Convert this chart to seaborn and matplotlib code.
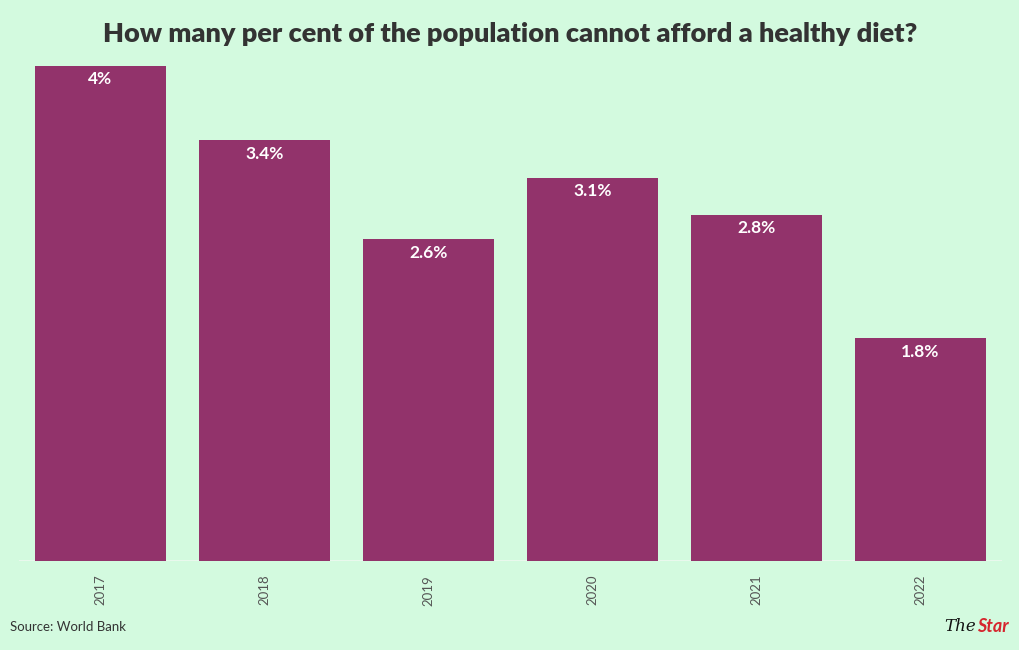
import matplotlib
matplotlib.use("Agg")
import matplotlib.pyplot as plt
import seaborn as sns
import pandas as pd

years = ["2017", "2018", "2019", "2020", "2021", "2022"]
values = [4.0, 3.4, 2.6, 3.1, 2.8, 1.8]
labels = ["4%", "3.4%", "2.6%", "3.1%", "2.8%", "1.8%"]

BG = "#d3fadf"
BAR = "#92336b"

sns.set_theme(style="white")
plt.rcParams['font.family'] = ['Lato', 'DejaVu Sans']

df = pd.DataFrame({"year": years, "value": values})

fig = plt.figure(figsize=(10.2, 6.5), dpi=100, facecolor=BG)
ax = fig.add_axes([0.0182, 0.137, 0.9645, 0.761])
ax.set_facecolor(BG)
sns.barplot(data=df, x="year", y="value", color=BAR, saturation=1, width=0.8,
            linewidth=0, edgecolor="none", ax=ax)
ax.set_ylim(0, 4)
ax.set_xlim(-0.5, 5.5)
ax.set_xlabel("")
ax.set_ylabel("")
ax.set_yticks([])
for s in ax.spines.values():
    s.set_visible(False)
ax.axhline(0, color="#eef8f0", lw=1.2, zorder=0)
ax.tick_params(axis="x", length=0, pad=10, labelsize=9.5, labelcolor="#555555")
for t in ax.get_xticklabels():
    t.set_rotation(90)

for i, (v, lab) in enumerate(zip(values, labels)):
    ax.annotate(lab, (i, v), xytext=(0, -9.5), textcoords="offset points",
                ha="center", va="center", color="white", fontsize=12.5, fontweight="bold")

fig.text(0.5, 0.948, "How many per cent of the population cannot afford a healthy diet?",
         ha="center", va="center", fontsize=19.5, fontweight="heavy", color="#333333")
fig.text(0.010, 0.035, "Source: World Bank", ha="left", va="center", fontsize=9.5, color="#333333")
fig.text(0.926, 0.036, "The", ha="left", va="center", fontsize=12, style="italic",
         color="#111111", family="DejaVu Serif")
fig.text(0.958, 0.036, "Star", ha="left", va="center", fontsize=13, style="italic",
         fontweight="bold", color="#d6262e")

fig.savefig("out.png", dpi=100, facecolor=BG)
